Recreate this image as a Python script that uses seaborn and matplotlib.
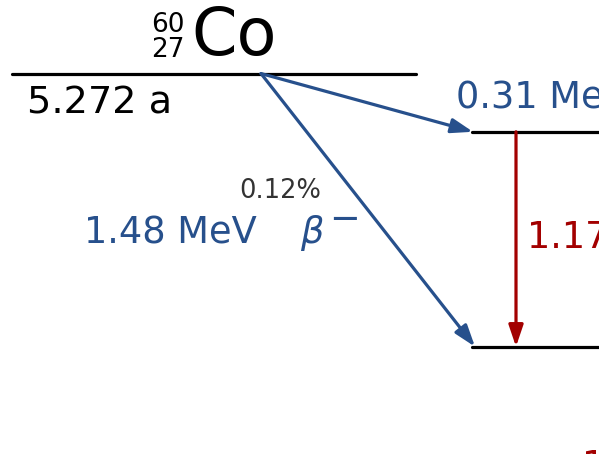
import matplotlib
matplotlib.use("Agg")
import matplotlib.pyplot as plt
import seaborn as sns
import pandas as pd

# Decay scheme content
nuclide_mass = "60"
nuclide_z = "27"
nuclide_symbol = "Co"
half_life = "5.272 a"
level_energy = [2.824, 2.506, 1.333, 0.0]          # MeV: parent, Ni-60 excited states, ground
beta_labels = ["0.31 MeV", "1.48 MeV"]
beta_targets = [1, 2]                               # index into level_energy
beta_branch = ["", "0.12%"]
gamma_labels = ["1.17 MeV", "1.33 MeV"]
gamma_pairs = [(1, 2), (2, 3)]

BLUE = "#27508c"
RED = "#a30000"
HEAD = "-|>,head_length=0.65,head_width=0.22"

sns.set_theme(style="white")
plt.rcParams["font.family"] = ["DejaVu Sans"]

W, H = 599, 454
fig = plt.figure(figsize=(W / 100, H / 100), dpi=100)
ax = fig.add_axes([0, 0, 1, 1])
E_TOP, E_BOT = 3.2254, 0.7472
ax.set_xlim(0, W)
ax.set_ylim(E_BOT, E_TOP)
ax.axis("off")


def ey(py):
    """Vertical pixel row -> energy coordinate."""
    return E_TOP - py * (E_TOP - E_BOT) / H


# level lines
segs = pd.DataFrame({
    "x": [12, 416, 472, 640, 472, 640],
    "E": [level_energy[0], level_energy[0], level_energy[1], level_energy[1],
          level_energy[2], level_energy[2]],
    "level": ["p", "p", "a", "a", "b", "b"],
})
sns.lineplot(data=segs, x="x", y="E", units="level", estimator=None,
             color="black", lw=2.3, ax=ax, legend=False)

# beta arrows
beta_end_x = [473, 475]
for tgt, xe in zip(beta_targets, beta_end_x):
    ax.annotate("", xy=(xe, level_energy[tgt]), xytext=(261, level_energy[0]),
                arrowprops=dict(arrowstyle=HEAD, color=BLUE, lw=2.3,
                                shrinkA=0, shrinkB=0, mutation_scale=20))

# gamma arrows
gamma_x = [516, 568]
for (a, b), gx in zip(gamma_pairs, gamma_x):
    ax.annotate("", xy=(gx, level_energy[b]), xytext=(gx, level_energy[a]),
                arrowprops=dict(arrowstyle=HEAD, color=RED, lw=2.3,
                                shrinkA=0, shrinkB=0, mutation_scale=20))

# nuclide symbol and half-life
ax.text(191, ey(55), nuclide_symbol, fontsize=47, ha="left", va="baseline", color="black")
ax.text(185, ey(32), nuclide_mass, fontsize=19, ha="right", va="baseline", color="black")
ax.text(185, ey(57), nuclide_z, fontsize=19, ha="right", va="baseline", color="black")
ax.text(27, ey(113), half_life, fontsize=27.5, ha="left", va="baseline", color="black")

# beta labels
ax.text(456, ey(108), beta_labels[0], fontsize=26.5, ha="left", va="baseline", color=BLUE)
ax.text(84, ey(243), beta_labels[1], fontsize=26.5, ha="left", va="baseline", color=BLUE)
ax.text(300, ey(243), r"$\beta$", fontsize=26.5, ha="left", va="baseline", color=BLUE)
ax.text(329, ey(230), "\u2212", fontsize=26.5, ha="left", va="baseline", color=BLUE)
ax.text(321, ey(198), beta_branch[1], fontsize=18.5, ha="right", va="baseline", color="#333333")

# gamma labels
ax.text(527, ey(247), gamma_labels[0], fontsize=26.5, ha="left", va="baseline", color=RED)
ax.text(582, ey(477), gamma_labels[1], fontsize=26.5, ha="left", va="baseline", color=RED)

fig.savefig("out.png", dpi=100)
